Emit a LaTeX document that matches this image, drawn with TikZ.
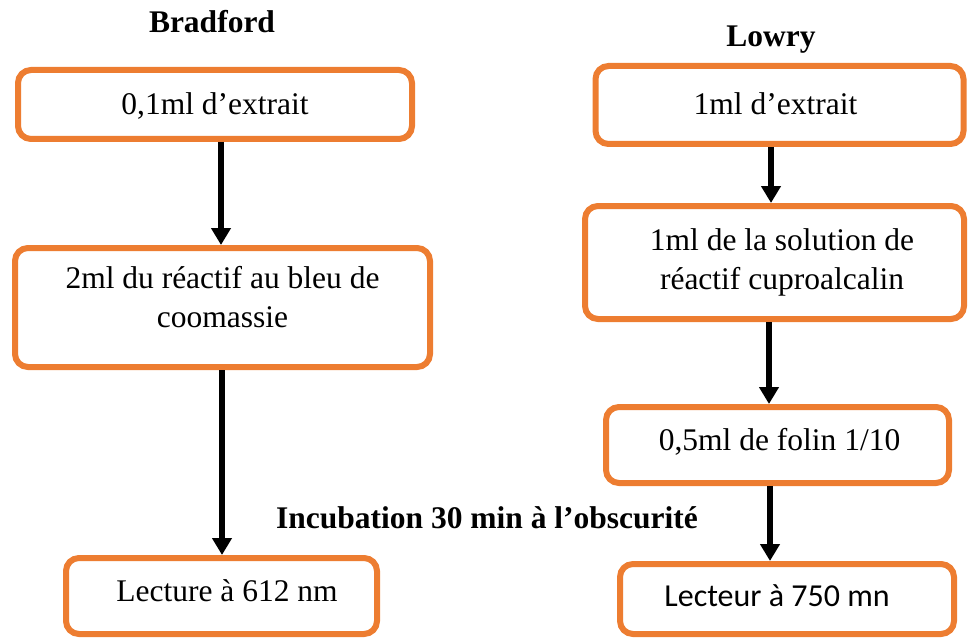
\documentclass[tikz,border=0pt]{standalone}
\usepackage{fontspec}
\setmainfont{Liberation Serif}
\newfontfamily\calib{Carlito}
\usetikzlibrary{arrows.meta}
\definecolor{boxorange}{HTML}{ED7D31}
% #1 horizontal padding (text moves by half of it), #2 lift, #3 lines
\newcommand\placetext[3]{\hspace*{#1}\raisebox{#2}[\height][\depth]{\begin{tabular}{@{}c@{}}#3\end{tabular}}}
\begin{document}
\begin{tikzpicture}[x=1pt,y=-1pt,
  stepbox/.style={draw=boxorange, line width=6pt, rounded corners=13pt, fill=white,
    inner sep=0pt, font=\fontsize{31.5}{38.5}\selectfont},
  title/.style={anchor=base, inner sep=0pt, font=\fontsize{31.5}{38}\selectfont\bfseries},
  arr/.style={draw=black, line width=5.5pt, -{Triangle[length=17pt,width=19pt]}}]
\useasboundingbox (0,0) rectangle (968,639);
% titles
\node[title] (tB) at (212,33) {Bradford};
\node[title] (tL) at (771,47) {Lowry};
\node[title] (tI) at (487,528) {Incubation 30 min à l’obscurité};
% Bradford column
\node[stepbox, minimum width=394pt, minimum height=69pt] (A1) at (215,104.5) {\placetext{0pt}{-2pt}{0,1ml d’extrait}};
\node[stepbox, minimum width=415pt, minimum height=119pt] (A2) at (222.5,307.5) {\placetext{0pt}{7pt}{2ml du réactif au bleu de\\coomassie}};
\node[stepbox, minimum width=311pt, minimum height=76pt] (A3) at (221.5,596) {\placetext{11pt}{2pt}{Lecture à 612 nm}};
% Lowry column
\node[stepbox, minimum width=368pt, minimum height=78pt] (B1) at (779.5,105) {\placetext{-8pt}{-2pt}{1ml d’extrait}};
\node[stepbox, minimum width=379pt, minimum height=113pt] (B2) at (774.5,262.5) {\placetext{15pt}{0pt}{1ml de la solution de\\réactif cuproalcalin}};
\node[stepbox, minimum width=343pt, minimum height=76pt] (B3) at (777.5,445) {\placetext{4pt}{2pt}{0,5ml de folin 1/10}};
\node[stepbox, minimum width=334pt, minimum height=70pt, font=\calib\fontsize{32}{38}\selectfont] (B4) at (787,599) {\placetext{-20pt}{0pt}{Lecteur à 750 mn}};
% arrow columns
\coordinate (xa) at (221,0);
\coordinate (xb) at (222,0);
\coordinate (xc) at (771,0);
\coordinate (xd) at (769,0);
\coordinate (xe) at (770,0);
\draw[arr] (A1.south -| xa) -- (A2.north -| xa);
\draw[arr] (A2.south -| xb) -- (A3.north -| xb);
\draw[arr] (B1.south -| xc) -- (B2.north -| xc);
\draw[arr] (B2.south -| xd) -- (B3.north -| xd);
\draw[arr] (B3.south -| xe) -- (B4.north -| xe);
\end{tikzpicture}
\end{document}
